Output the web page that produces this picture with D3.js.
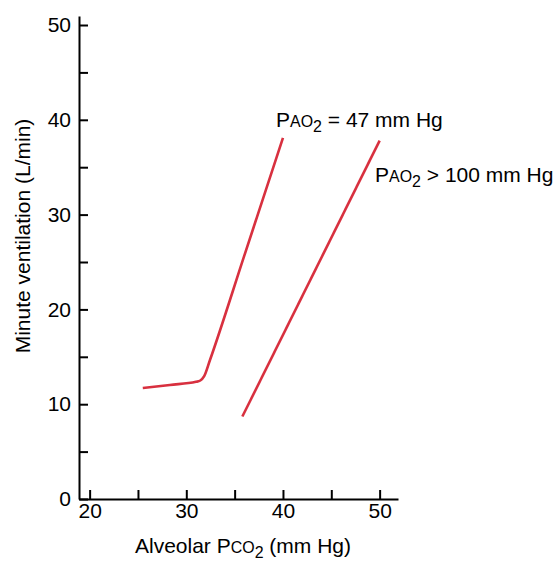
<!DOCTYPE html>
<html>
<head>
<meta charset="utf-8">
<script src="https://cdn.jsdelivr.net/npm/d3@7"></script>
<style>
  html, body { margin: 0; padding: 0; background: #fff; }
  svg { display: block; font-family: "Liberation Sans", Arial, Helvetica, sans-serif; }
</style>
</head>
<body>
<svg id="chart" width="559" height="562"></svg>
<script>
// Ventilatory response to alveolar PCO2 at two alveolar PO2 levels
const yTicks = [0, 5, 10, 15, 20, 25, 30, 35, 40, 45, 50];
const xTicks = [20, 25, 30, 35, 40, 45, 50];

// PAO2 = 47 mm Hg: flat segment, a knee near 32 mm Hg, then a steep rise
const hypoxicPco2 = [25.5, 28.3, 31.0, 31.45, 31.85, 32.45, 36.0, 40.0];
const hypoxicVent = [11.7, 12.03, 12.36, 12.5, 12.95, 14.66, 25.67, 38.1];

// PAO2 > 100 mm Hg: a straight response line
const normoxicPco2 = [35.8, 50.0];
const normoxicVent = [8.7, 37.8];

const curveLabels = ["= 47 mm Hg", "> 100 mm Hg"];

const svg = d3.select("#chart");
const color = "#d8303f";
const FS = 21;

const x = d3.scaleLinear().domain([18.9, 51.9]).range([79, 398]);
const y = d3.scaleLinear().domain([0, 50.95]).range([499, 16]);

const fmt = d => (d % 10 === 0 ? d : "");

const xAxis = svg.append("g")
  .attr("transform", `translate(0,${y(0)})`)
  .call(d3.axisBottom(x).tickValues(xTicks).tickFormat(fmt)
    .tickSizeInner(-9).tickSizeOuter(0).tickPadding(4));

const yAxis = svg.append("g")
  .attr("transform", `translate(${x.range()[0]},0)`)
  .call(d3.axisLeft(y).tickValues(yTicks).tickFormat(fmt)
    .tickSizeInner(-9).tickSizeOuter(0).tickPadding(8));

[xAxis, yAxis].forEach(g => {
  g.select(".domain").attr("stroke", "#000").attr("stroke-width", 2);
  g.selectAll(".tick line").attr("stroke", "#000").attr("stroke-width", 2);
  g.selectAll(".tick text").attr("fill", "#000").style("font-size", FS + "px")
    .style("font-family", "'Liberation Sans', Arial, sans-serif");
});

const line = d3.line()
  .x(d => x(d[0]))
  .y(d => y(d[1]))
  .curve(d3.curveMonotoneX);

const series = [
  d3.zip(hypoxicPco2, hypoxicVent),
  d3.zip(normoxicPco2, normoxicVent)
];

svg.selectAll("path.curve")
  .data(series)
  .join("path")
  .attr("class", "curve")
  .attr("d", line)
  .attr("fill", "none")
  .attr("stroke", color)
  .attr("stroke-width", 2.6)
  .attr("stroke-linecap", "butt");

// Pressure label: P with small-cap letters and a numeric subscript
function pressureLabel(parent, px, py, letters, sub, rest, size) {
  const t = parent.append("text")
    .attr("x", px).attr("y", py)
    .style("font-size", size + "px")
    .attr("fill", "#000");
  t.append("tspan").text("P");
  t.append("tspan").style("font-size", (size * 0.76) + "px").text(letters);
  t.append("tspan").style("font-size", (size * 0.76) + "px").attr("dy", size * 0.22).text(sub);
  t.append("tspan").attr("dy", -size * 0.22).text(rest);
  return t;
}

pressureLabel(svg, 276, 127, "AO", "2", " " + curveLabels[0], FS);
pressureLabel(svg, 375, 182, "AO", "2", " " + curveLabels[1], FS);

// Axis titles
const xt = svg.append("text")
  .attr("x", 243).attr("y", 553)
  .attr("text-anchor", "middle")
  .style("font-size", FS + "px");
xt.append("tspan").text("Alveolar P");
xt.append("tspan").style("font-size", (FS * 0.76) + "px").text("CO");
xt.append("tspan").style("font-size", (FS * 0.76) + "px").attr("dy", FS * 0.22).text("2");
xt.append("tspan").attr("dy", -FS * 0.22).text(" (mm Hg)");

svg.append("text")
  .attr("transform", "translate(30,236) rotate(-90)")
  .attr("text-anchor", "middle")
  .style("font-size", FS + "px")
  .text("Minute ventilation (L/min)");
</script>
</body>
</html>
